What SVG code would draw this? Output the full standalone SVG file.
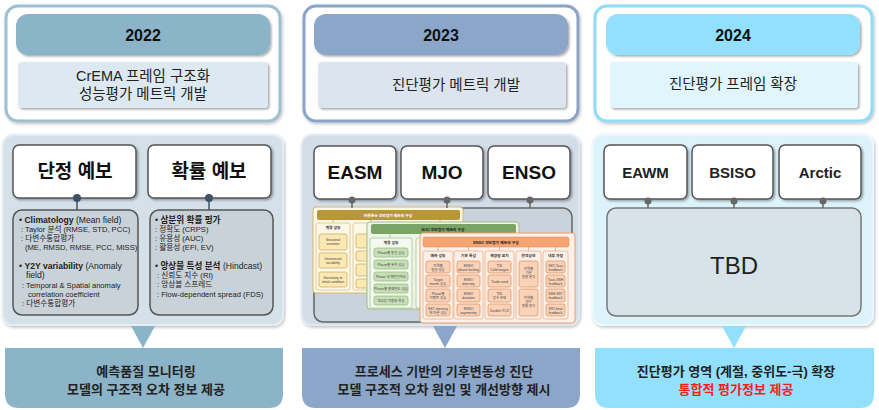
<svg xmlns="http://www.w3.org/2000/svg" width="879" height="410" viewBox="0 0 879 410">
<defs>
<filter id="sh" x="-10%" y="-10%" width="120%" height="130%"><feDropShadow dx="1.5" dy="1.5" stdDeviation="1.2" flood-color="#000" flood-opacity="0.35"/></filter>
<filter id="sh2" x="-10%" y="-10%" width="120%" height="130%"><feDropShadow dx="1" dy="1.5" stdDeviation="1.5" flood-color="#000" flood-opacity="0.25"/></filter>
</defs>
<style>
text{font-family:"Liberation Sans","Noto Sans CJK KR",sans-serif;}
.yr{font-size:16px;font-weight:bold;fill:#111;text-anchor:middle;}
.sub{font-size:14.5px;fill:#222;text-anchor:middle;}
.node{fill:#fff;stroke:#555;stroke-width:1.5;}
.nt{font-size:19px;font-weight:bold;fill:#111;text-anchor:middle;}
.nt2{font-size:15px;font-weight:bold;fill:#222;text-anchor:middle;}
.det{fill:#c9d2d9;stroke:#555;stroke-width:1.5;}
.b1{font-size:8.6px;fill:#222;}
.b2{font-size:7.6px;fill:#222;}
.dot{fill:#3e5166;}
.gdot{fill:#666;}
.cl{stroke:#3e5166;stroke-width:1.5;}
.gl{stroke:#666;stroke-width:1.5;}
.bt{font-size:13px;font-weight:bold;fill:#222;text-anchor:middle;}
.red{fill:#ff1a1a;}
.t{font-size:3.4px;fill:#444;text-anchor:middle;}
.th{font-size:3.8px;font-weight:bold;text-anchor:middle;}
</style>

<!-- Top panels -->
<g id="top-2022">
<rect x="6" y="6" width="274" height="115" rx="12" fill="#fff" stroke="#9fc0d3" stroke-width="3" filter="url(#sh2)"/>
<rect x="16" y="14" width="254" height="41" rx="12" fill="#8cb4c9" filter="url(#sh)"/>
<text class="yr" x="143" y="41">2022</text>
<rect x="18" y="62" width="250" height="46" rx="4" fill="#dde9f0" filter="url(#sh)"/>
<text class="sub" x="143" y="81">CrEMA 프레임 구조화</text>
<text class="sub" x="143" y="99">성능평가 메트릭 개발</text>
</g>
<g id="top-2023">
<rect x="304" y="6" width="274" height="115" rx="12" fill="#fff" stroke="#89a4c6" stroke-width="3" filter="url(#sh2)"/>
<rect x="314" y="14" width="254" height="41" rx="12" fill="#8ba6c8" filter="url(#sh)"/>
<text class="yr" x="441" y="41">2023</text>
<rect x="318" y="62" width="248" height="46" rx="4" fill="#dce4ef" filter="url(#sh)"/>
<text class="sub" x="456" y="90">진단평가 메트릭 개발</text>
</g>
<g id="top-2024">
<rect x="595" y="6" width="277" height="115" rx="12" fill="#fff" stroke="#8fdcf8" stroke-width="3" filter="url(#sh2)"/>
<rect x="606" y="14" width="254" height="41" rx="12" fill="#93e0fc" filter="url(#sh)"/>
<text class="yr" x="733" y="41">2024</text>
<rect x="610" y="62" width="248" height="46" rx="4" fill="#e1f5fd" filter="url(#sh)"/>
<text class="sub" x="733" y="89">진단평가 프레임 확장</text>
</g>

<!-- Middle panel backgrounds -->
<g id="mid-2022-bg"><rect x="3" y="135" width="280" height="190" rx="10" fill="#d5e1e9" stroke="#e4edf2" stroke-width="2" filter="url(#sh2)"/></g>
<g id="mid-2023-bg"><rect x="302" y="135" width="277" height="190" rx="10" fill="#d3dde8" stroke="#e0e7ef" stroke-width="2" filter="url(#sh2)"/></g>
<g id="mid-2024-bg"><rect x="593" y="135" width="280" height="190" rx="10" fill="#ddf3fc" stroke="#eaf8fe" stroke-width="2" filter="url(#sh2)"/></g>

<!-- Panel 1 -->
<g id="node-deterministic">
<rect class="node" x="13" y="145" width="123" height="53" rx="6" filter="url(#sh)"/>
<text class="nt" x="75" y="178">단정 예보</text>
</g>
<g id="node-probabilistic">
<rect class="node" x="148" y="145" width="123" height="53" rx="6" filter="url(#sh)"/>
<text class="nt" x="209" y="178">확률 예보</text>
</g>
<g id="node-det-detail">
<rect class="det" x="13" y="210" width="125" height="105" rx="9"/>
<text class="b1" x="19" y="223">• <tspan font-weight="bold">Climatology</tspan> (Mean field)</text>
<text class="b2" x="21" y="232">: Taylor 분석 (RMSE, STD, PCC)</text>
<text class="b2" x="21" y="241">: 다변수통합평가</text>
<text class="b2" x="25" y="250">(ME, RMSD, RMSE, PCC, MISS)</text>
<text class="b1" x="19" y="269">• <tspan font-weight="bold">Y2Y variability</tspan> (Anomaly</text>
<text class="b1" x="26" y="278">field)</text>
<text class="b2" x="22" y="288">: Temporal &amp; Spatial anomaly</text>
<text class="b2" x="28" y="297">correlation coefficient</text>
<text class="b2" x="22" y="306">: 다변수통합평가</text>
</g>
<g id="node-prob-detail">
<rect class="det" x="150" y="210" width="123" height="105" rx="9"/>
<text class="b1" x="155" y="223">• <tspan font-weight="bold">삼분위 확률 평가</tspan></text>
<text class="b2" x="155" y="232">: 정확도 (CRPS)</text>
<text class="b2" x="155" y="241">: 유용성 (AUC)</text>
<text class="b2" x="155" y="250">: 활용성 (EFI, EV)</text>
<text class="b1" x="155" y="269">• <tspan font-weight="bold">앙상블 특성 분석</tspan> (Hindcast)</text>
<text class="b2" x="157" y="278">: 신뢰도 지수 (RI)</text>
<text class="b2" x="157" y="287">: 앙상블 스프레드</text>
<text class="b2" x="157" y="297">: Flow-dependent spread (FDS)</text>
</g>

<!-- Panel 2 -->
<g id="node-easm">
<rect class="node" x="314" y="146" width="82" height="53" rx="6" filter="url(#sh)"/>
<text class="nt" x="355" y="179">EASM</text>
</g>
<g id="node-mjo">
<rect class="node" x="401" y="146" width="82" height="53" rx="6" filter="url(#sh)"/>
<text class="nt" x="442" y="179">MJO</text>
</g>
<g id="node-enso">
<rect class="node" x="488" y="146" width="82" height="53" rx="6" filter="url(#sh)"/>
<text class="nt" x="529" y="179">ENSO</text>
</g>
<g id="node-metric-frame">
<rect x="314" y="208" width="258" height="114" rx="9" fill="#c9d3dc" stroke="#666" stroke-width="1.5"/>
<!-- Monsoon -->
<g id="monsoon">
<rect x="313" y="207" width="150" height="86" rx="3" fill="#fdf7e6" stroke="#d4b86a" stroke-width="1"/>
<rect x="317" y="210" width="143" height="10" rx="2" fill="#b8963a"/>
<text class="th" x="388" y="216.5" fill="#fff">여름몬순 진단평가 메트릭 구성</text>
<path d="M333 220v3M371 220v3M440 220v3" stroke="#b8963a" stroke-width="0.6"/>
<rect x="316" y="223" width="34" height="67" rx="2" fill="#fdf7e6" stroke="#d8c48a" stroke-width="0.8"/>
<text class="th" x="333" y="229" fill="#333">계절 성능</text>
<rect x="319" y="234" width="28" height="16" rx="2" fill="#fbe8b2" stroke="#c8a85a" stroke-width="0.7"/>
<text class="t" x="333" y="241">Seasonal</text><text class="t" x="333" y="245">variation</text>
<rect x="319" y="253" width="28" height="15" rx="2" fill="#fbe8b2" stroke="#c8a85a" stroke-width="0.7"/>
<text class="t" x="333" y="259.5">Interannual</text><text class="t" x="333" y="263.5">variability</text>
<rect x="319" y="272" width="28" height="15" rx="2" fill="#fbe8b2" stroke="#c8a85a" stroke-width="0.7"/>
<text class="t" x="333" y="278.5">Sensitivity to</text><text class="t" x="333" y="282.5">initial condition</text>
<rect x="353" y="223" width="40" height="67" rx="2" fill="#fdf7e6" stroke="#d8c48a" stroke-width="0.8"/>
<rect x="356" y="234" width="34" height="14" rx="2" fill="#fbe8b2" stroke="#c8a85a" stroke-width="0.7"/>
<rect x="356" y="251" width="34" height="10" rx="2" fill="#fbe8b2" stroke="#c8a85a" stroke-width="0.7"/>
<rect x="356" y="264" width="34" height="12" rx="2" fill="#fbe8b2" stroke="#c8a85a" stroke-width="0.7"/>
<rect x="356" y="279" width="34" height="9" rx="2" fill="#fbe8b2" stroke="#c8a85a" stroke-width="0.7"/>
</g>
<!-- MJO -->
<g id="mjo-frame">
<rect x="367" y="222" width="152" height="87" rx="3" fill="#eef5e8" stroke="#9bbf85" stroke-width="1"/>
<rect x="371" y="224" width="145" height="10" rx="2" fill="#7aa366"/>
<text class="th" x="443" y="230.5" fill="#222">MJO 진단평가 메트릭 구성</text>
<path d="M390 234v4M436 234v4" stroke="#7aa366" stroke-width="0.6"/>
<rect x="370" y="238" width="42" height="70" rx="2" fill="#f4f9f0" stroke="#a8c894" stroke-width="0.8"/>
<text class="th" x="391" y="244" fill="#333">계절 성능</text>
<rect x="374" y="248" width="34" height="9" rx="2" fill="#c8e0b8" stroke="#8cb474" stroke-width="0.7"/>
<text class="t" x="391" y="253.7">Phase별 동진 성능</text>
<rect x="374" y="260" width="34" height="9" rx="2" fill="#c8e0b8" stroke="#8cb474" stroke-width="0.7"/>
<text class="t" x="391" y="265.7">Phase별 위치 성능</text>
<rect x="374" y="272" width="34" height="9" rx="2" fill="#c8e0b8" stroke="#8cb474" stroke-width="0.7"/>
<text class="t" x="391" y="277.7">Phase 내 패턴일치도</text>
<rect x="374" y="284" width="34" height="9" rx="2" fill="#c8e0b8" stroke="#8cb474" stroke-width="0.7"/>
<text class="t" x="391" y="289.7">Phase별 발생빈도 성능</text>
<rect x="374" y="296" width="34" height="9" rx="2" fill="#c8e0b8" stroke="#8cb474" stroke-width="0.7"/>
<text class="t" x="391" y="301.7">대류장 이동의 특성</text>
<rect x="416" y="238" width="40" height="70" rx="2" fill="#f4f9f0" stroke="#a8c894" stroke-width="0.8"/>
</g>
<!-- ENSO -->
<g id="enso-frame">
<rect x="420" y="233" width="155" height="90" rx="3" fill="#fdf0e8" stroke="#e8a070" stroke-width="1"/>
<rect x="423" y="237" width="146" height="10" rx="2" fill="#f4a571" stroke="#e08a50" stroke-width="0.5"/>
<text class="th" x="496" y="243.5" fill="#222">ENSO 진단평가 메트릭 구성</text>
<path d="M438 247v4M468.5 247v4M499.5 247v4M528.5 247v4M555.5 247v4" stroke="#e08a50" stroke-width="0.6"/>
<g fill="#fdf0e8" stroke="#eab08a" stroke-width="0.8">
<rect x="423" y="251" width="30" height="68" rx="2"/>
<rect x="454" y="251" width="29" height="68" rx="2"/>
<rect x="485" y="251" width="29" height="68" rx="2"/>
<rect x="516" y="251" width="25" height="68" rx="2"/>
<rect x="543" y="251" width="25" height="68" rx="2"/>
</g>
<g fill="#333">
<text class="th" x="438" y="257">예측 성능</text>
<text class="th" x="468.5" y="257">기본 특성</text>
<text class="th" x="499.5" y="257">해양장 요지</text>
<text class="th" x="528.5" y="257">원격상관</text>
<text class="th" x="555.5" y="257">내부 과정</text>
</g>
<g fill="#f9d2b8" stroke="#e0905a" stroke-width="0.7">
<rect x="426" y="261" width="24" height="12" rx="2"/><rect x="426" y="275" width="24" height="12" rx="2"/><rect x="426" y="289" width="24" height="13" rx="2"/><rect x="426" y="304" width="24" height="12" rx="2"/>
<rect x="457" y="261" width="23" height="12" rx="2"/><rect x="457" y="275" width="23" height="12" rx="2"/><rect x="457" y="289" width="23" height="13" rx="2"/><rect x="457" y="304" width="23" height="12" rx="2"/>
<rect x="488" y="261" width="23" height="12" rx="2"/><rect x="488" y="275" width="23" height="12" rx="2"/><rect x="488" y="289" width="23" height="13" rx="2"/><rect x="488" y="304" width="23" height="12" rx="2"/>
<rect x="519" y="261" width="19" height="26" rx="2"/><rect x="519" y="289" width="19" height="27" rx="2"/>
<rect x="546" y="261" width="19" height="12" rx="2"/><rect x="546" y="275" width="19" height="12" rx="2"/><rect x="546" y="289" width="19" height="13" rx="2"/><rect x="546" y="304" width="19" height="12" rx="2"/>
</g>
<text class="t" x="438" y="266.5">지역별</text><text class="t" x="438" y="270.5">평균 성능</text>
<text class="t" x="438" y="280.5">Target</text><text class="t" x="438" y="284.5">month 성능</text>
<text class="t" x="438" y="294.5">Phase별</text><text class="t" x="438" y="298.5">이벤트 성능</text>
<text class="t" x="438" y="309.5">SST intensity</text><text class="t" x="438" y="313.5">에 따른 성능</text>
<text class="t" x="468.5" y="266.5">ENSO</text><text class="t" x="468.5" y="270.5">phase locking</text>
<text class="t" x="468.5" y="280.5">ENSO</text><text class="t" x="468.5" y="284.5">diversity</text>
<text class="t" x="468.5" y="294.5">ENSO</text><text class="t" x="468.5" y="298.5">duration</text>
<text class="t" x="468.5" y="309.5">ENSO</text><text class="t" x="468.5" y="313.5">asymmetry</text>
<text class="t" x="499.5" y="266.5">적도</text><text class="t" x="499.5" y="270.5">Cold tongue</text>
<text class="t" x="499.5" y="282.5">Trade wind</text>
<text class="t" x="499.5" y="294.5">적도</text><text class="t" x="499.5" y="298.5">강수 모의</text>
<text class="t" x="499.5" y="311.5">Double ITCZ</text>
<text class="t" x="528.5" y="270">지역별</text><text class="t" x="528.5" y="274">기온</text><text class="t" x="528.5" y="278">영향 분석</text>
<text class="t" x="528.5" y="298.5">지역별</text><text class="t" x="528.5" y="302.5">강수</text><text class="t" x="528.5" y="306.5">영향 분석</text>
<text class="t" x="555.5" y="266.5">SST-Taux</text><text class="t" x="555.5" y="270.5">feedback</text>
<text class="t" x="555.5" y="280.5">Taux-SSH</text><text class="t" x="555.5" y="284.5">feedback</text>
<text class="t" x="555.5" y="294.5">SSH-SST</text><text class="t" x="555.5" y="298.5">feedback</text>
<text class="t" x="555.5" y="309.5">SST-heat</text><text class="t" x="555.5" y="313.5">feedback</text>
</g>
</g>

<!-- Panel 3 -->
<g id="node-eawm">
<rect class="node" x="604" y="145" width="83" height="54" rx="6" filter="url(#sh)"/>
<text class="nt2" x="645.5" y="178">EAWM</text>
</g>
<g id="node-bsiso">
<rect class="node" x="692" y="145" width="81" height="54" rx="6" filter="url(#sh)"/>
<text class="nt2" x="732.5" y="178">BSISO</text>
</g>
<g id="node-arctic">
<rect class="node" x="779" y="145" width="82" height="54" rx="6" filter="url(#sh)"/>
<text class="nt2" x="820" y="178">Arctic</text>
</g>
<g id="node-tbd">
<rect x="607" y="208" width="254" height="108" rx="9" fill="#d8e2e9" stroke="#777" stroke-width="1.5"/>
<text x="734" y="274" font-size="24" fill="#222" text-anchor="middle">TBD</text>
</g>

<!-- Connectors -->
<g id="connectors">
<line class="cl" x1="77" y1="198" x2="77" y2="210"/><circle class="dot" cx="77" cy="198" r="4"/>
<line class="cl" x1="209" y1="198" x2="209" y2="210"/><circle class="dot" cx="209" cy="198" r="4"/>
<line class="gl" x1="352" y1="200" x2="352" y2="208"/><circle class="gdot" cx="352" cy="200" r="3.5"/>
<line class="gl" x1="447" y1="200" x2="447" y2="208"/><circle class="gdot" cx="447" cy="200" r="3.5"/>
<line class="gl" x1="530" y1="200" x2="530" y2="208"/><circle class="gdot" cx="530" cy="200" r="3.5"/>
<line class="gl" x1="648" y1="201" x2="648" y2="208"/><circle class="gdot" cx="648" cy="201" r="3.5"/>
<line class="gl" x1="734" y1="201" x2="734" y2="208"/><circle class="gdot" cx="734" cy="201" r="3.5"/>
<line class="gl" x1="823" y1="201" x2="823" y2="208"/><circle class="gdot" cx="823" cy="201" r="3.5"/>
<polygon points="131,326 155,326 143,348" fill="#8cb4c9"/>
<polygon points="433,326 457,326 445,348" fill="#8ba6c8"/>
<polygon points="722,326 746,326 734,348" fill="#93e0fc"/>
</g>

<!-- Bottom outcome boxes -->
<g id="out-2022">
<path d="M5 348H283V394Q283 408 269 408H19Q5 408 5 394Z" fill="#8cb4c9"/>
<text class="bt" x="146" y="376">예측품질 모니터링</text>
<text class="bt" x="146" y="394">모델의 구조적 오차 정보 제공</text>
</g>
<g id="out-2023">
<path d="M302 348H580V394Q580 408 566 408H316Q302 408 302 394Z" fill="#8ba6c8"/>
<text class="bt" x="444" y="376">프로세스 기반의 기후변동성 진단</text>
<text class="bt" x="444" y="394">모델 구조적 오차 원인 및 개선방향 제시</text>
</g>
<g id="out-2024">
<path d="M595 348H874V394Q874 408 860 408H609Q595 408 595 394Z" fill="#93e0fc"/>
<text class="bt" x="736" y="376">진단평가 영역 (계절, 중위도-극) 확장</text>
<text class="bt red" x="736" y="394">통합적 평가정보 제공</text>
</g>
</svg>
